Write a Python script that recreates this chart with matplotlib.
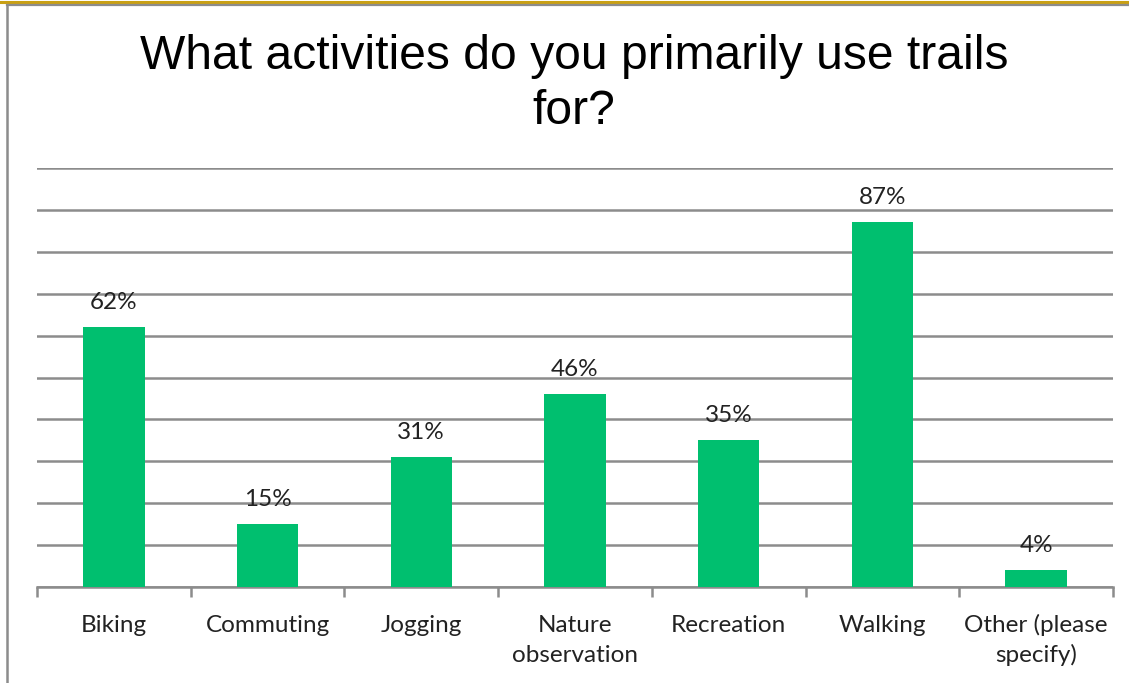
import matplotlib
matplotlib.use("Agg")
import matplotlib.pyplot as plt
from matplotlib.lines import Line2D
from matplotlib.transforms import blended_transform_factory

categories = ["Biking", "Commuting", "Jogging", "Nature\nobservation",
              "Recreation", "Walking", "Other (please\nspecify)"]
values = [62, 15, 31, 46, 35, 87, 4]
value_labels = ["62%", "15%", "31%", "46%", "35%", "87%", "4%"]
title_lines = ["What activities do you primarily use trails", "for?"]

W, H = 1129, 683
fig = plt.figure(figsize=(W / 100, H / 100), dpi=100)
fig.patch.set_facecolor("white")

# frame decorations: gold rule on top, grey rule below it, grey left border
fig.add_artist(Line2D([0, 1], [1 - 1.5 / H, 1 - 1.5 / H], color="#C9A014", lw=2.2,
                      transform=fig.transFigure))
fig.add_artist(Line2D([7 / W, 1], [1 - 5 / H, 1 - 5 / H], color="#8C8C8C", lw=1.6,
                      transform=fig.transFigure))
fig.add_artist(Line2D([7 / W, 7 / W], [0, 1 - 5 / H], color="#8C8C8C", lw=1.8,
                      transform=fig.transFigure))

left, right = 37 / W, 1113 / W
bottom, top = 1 - 587 / H, 1 - 168 / H
ax = fig.add_axes([left, bottom, right - left, top - bottom])

x = list(range(len(categories)))
ax.bar(x, values, width=0.40, color="#00BF6F", zorder=3)
ax.set_xlim(-0.5, len(categories) - 0.5)
ax.set_ylim(0, 100)

text_color = "#222222"
for xi, v, lab in zip(x, values, value_labels):
    ax.annotate(lab, (xi, v), xytext=(0, 13), textcoords="offset points",
                ha="center", va="baseline", fontsize=17.5, family="Lato",
                color=text_color)

ax.set_yticks(range(0, 101, 10))
ax.yaxis.grid(True, color="#8C8C8C", lw=1.8, zorder=0)
ax.tick_params(axis="y", left=False, labelleft=False)

for s in ["top", "right", "left"]:
    ax.spines[s].set_visible(False)
ax.spines["bottom"].set_color("#8C8C8C")
ax.spines["bottom"].set_linewidth(1.8)

# category boundaries carry the tick marks; names sit under each bar
ax.set_xticks([i - 0.5 for i in range(len(categories) + 1)])
ax.set_xticklabels([])
ax.tick_params(axis="x", direction="out", length=7, width=1.8, color="#8C8C8C")

trans = blended_transform_factory(ax.transData, fig.transFigure)
for xi, cat in zip(x, categories):
    lines = cat.split("\n")
    for k, line in enumerate(lines):
        ax.text(xi, 1 - (632 + 30 * k) / H, line, transform=trans,
                ha="center", va="baseline", fontsize=17.5, family="Lato",
                color=text_color)

for k, line in enumerate(title_lines):
    fig.text(0.5084, 1 - (69 + 55 * k) / H, line, ha="center", va="baseline",
             fontsize=34.6, family="Liberation Sans", color="black")

fig.savefig("out.png", dpi=100)
